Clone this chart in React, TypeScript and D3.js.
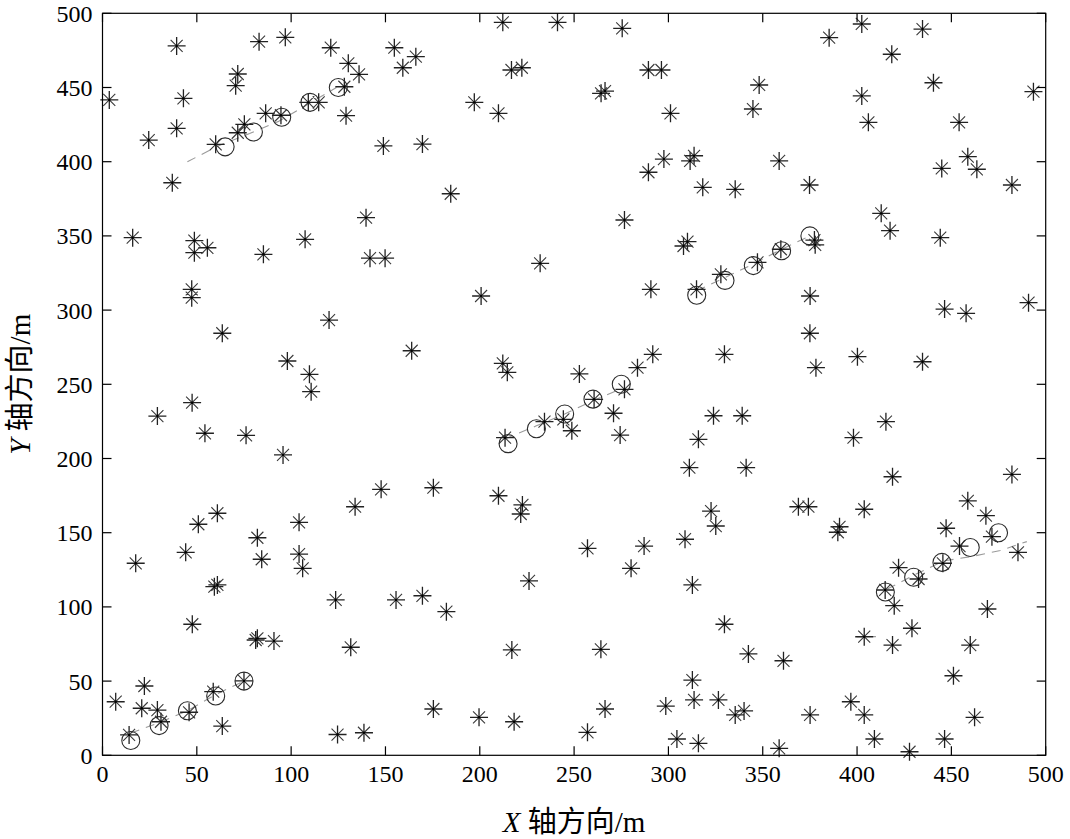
import React from "react";
import * as d3 from "d3";

const W = 1070;
const H = 839;
const M = { left: 102.5, right: 1045.7, top: 13.3, bottom: 755.3 };

const xTicks = [0, 50, 100, 150, 200, 250, 300, 350, 400, 450, 500];
const yTicks = [0, 50, 100, 150, 200, 250, 300, 350, 400, 450, 500];

// measurements (clutter + detections)
const measurements: [number, number][] = [
  [39.3, 478.0], [83.0, 480.9], [96.9, 483.8], [121.0, 476.8], [71.7, 459.1], [70.6, 451.2],
  [3.6, 441.6], [42.9, 442.7], [39.3, 422.5], [24.5, 414.6], [60.0, 411.7], [71.7, 419.5],
  [75.2, 425.2], [86.5, 432.6], [94.6, 431.3], [109.1, 440.0], [114.6, 440.0], [37.0, 385.8],
  [16.0, 348.8], [48.7, 346.8], [48.7, 338.7], [55.6, 342.0], [85.3, 337.6], [107.4, 347.7],
  [212.2, 493.9], [241.2, 493.9], [154.7, 476.8], [166.1, 470.8], [159.2, 463.3], [130.3, 466.3],
  [136.0, 458.9], [128.2, 450.5], [129.1, 431.0], [216.8, 461.8], [222.3, 463.3], [197.1, 440.0],
  [209.9, 432.6], [148.9, 410.6], [169.6, 411.9], [184.6, 378.4], [139.7, 362.3], [141.8, 335.0],
  [149.8, 335.0],
  [275.5, 489.9], [289.4, 461.8], [296.3, 461.8], [264.3, 446.1], [266.4, 447.6], [301.1, 432.6],
  [348.1, 451.7], [344.8, 435.5], [297.6, 401.8], [289.4, 392.9], [311.5, 400.5], [313.6, 404.0],
  [318.2, 382.7], [335.4, 381.4], [358.7, 400.5], [374.8, 384.3], [276.7, 360.7], [308.0, 343.2],
  [310.1, 346.1], [359.6, 341.0],
  [402.5, 492.8], [385.2, 483.6], [434.7, 489.4], [418.4, 472.4], [440.5, 453.2], [493.5, 447.2],
  [402.5, 444.3], [406.0, 426.5], [454.1, 426.5], [458.7, 403.4], [463.5, 394.9], [444.9, 395.5],
  [482.1, 384.3], [412.8, 365.2], [417.5, 353.5], [444.1, 348.8], [377.4, 347.2], [377.8, 344.0],
  [47.3, 314.0], [47.3, 308.4], [63.5, 284.4], [120.1, 293.3], [98.0, 265.7], [109.7, 256.7],
  [110.6, 245.0], [47.5, 237.6], [29.1, 228.6], [54.3, 217.0], [76.1, 215.6], [95.7, 202.4],
  [232.0, 331.5], [200.7, 309.5], [163.9, 272.6], [212.2, 264.1], [214.6, 258.1], [213.4, 214.0],
  [234.3, 224.8], [244.3, 226.4], [248.8, 218.7], [147.7, 179.2], [175.4, 180.3], [209.9, 174.9],
  [290.7, 314.0], [314.9, 314.0], [327.8, 324.1], [347.2, 332.2], [375.1, 309.5], [375.0, 284.4],
  [378.2, 261.2], [291.7, 270.2], [329.7, 270.2], [283.6, 261.2], [252.8, 257.0], [276.7, 246.6],
  [260.6, 239.9], [270.9, 230.5], [274.4, 215.8], [323.9, 228.8], [339.1, 228.8], [315.9, 212.9],
  [311.1, 193.8], [341.2, 193.8],
  [400.2, 268.6], [434.7, 265.2], [446.4, 300.7], [457.8, 297.8], [490.9, 305.0], [415.3, 224.8],
  [398.1, 214.0], [418.8, 187.7], [482.1, 189.3], [458.7, 171.5],
  [60.9, 163.1], [50.8, 155.7], [104.2, 157.0], [82.1, 146.6], [44.1, 136.8], [17.6, 129.4],
  [84.4, 132.1], [104.2, 135.6], [106.1, 126.0], [59.3, 113.6], [60.9, 114.8], [123.6, 104.7],
  [47.6, 88.3], [81.2, 77.7], [82.1, 78.8], [90.9, 77.0], [75.0, 50.1], [22.2, 46.7],
  [7.0, 36.1], [58.7, 42.9], [20.8, 31.7], [29.1, 30.5], [45.9, 29.0], [31.0, 22.6],
  [63.5, 19.7], [14.1, 13.7], [124.6, 14.0],
  [133.9, 167.5], [222.6, 168.7], [221.7, 162.6], [226.1, 117.5], [155.6, 104.7], [169.6, 107.5],
  [182.3, 96.8], [131.6, 72.8], [217.0, 71.0], [175.4, 31.2], [199.6, 25.6], [218.2, 22.6],
  [138.6, 15.2],
  [322.6, 164.6], [325.1, 154.5], [368.9, 167.5], [374.2, 167.5], [257.1, 139.5], [287.1, 141.0],
  [280.2, 126.0], [308.8, 145.6], [312.7, 114.8], [329.7, 88.3], [264.2, 71.4], [342.4, 68.3],
  [361.0, 63.7], [312.7, 50.7], [266.4, 31.2], [298.6, 33.2], [313.6, 37.3], [326.5, 37.3],
  [335.4, 27.2], [340.1, 29.9], [257.1, 15.5], [304.5, 11.0], [315.9, 8.1], [358.7, 4.7],
  [375.1, 27.2],
  [403.8, 165.8], [390.7, 154.0], [389.8, 150.3], [468.3, 161.5], [447.2, 153.0], [454.3, 141.0],
  [471.5, 147.3], [485.3, 136.8], [445.5, 129.4], [422.0, 126.4], [432.6, 118.8], [414.9, 111.4],
  [419.7, 100.8], [469.1, 98.6], [429.1, 85.6], [403.8, 79.9], [418.8, 74.3], [460.0, 74.3],
  [451.1, 53.6], [396.7, 36.1], [403.8, 27.2], [462.3, 25.6], [409.2, 11.0], [446.4, 11.0],
  [427.8, 2.4],
];

// true target positions (circles)
const trueTrack1: [number, number][] = [[15, 10], [30, 20], [45, 30], [60, 40], [75, 50]];
const trueTrack2: [number, number][] = [[65, 410], [80, 420], [95, 430], [110, 440], [125, 450]];
const trueTrack3: [number, number][] = [[215, 210], [230, 220], [245, 230], [260, 240], [275, 250]];
const trueTrack4: [number, number][] = [[315, 310], [330, 320], [345, 330], [360, 340], [375, 350]];
const trueTrack5: [number, number][] = [[415, 110], [430, 120], [445, 130], [460, 140], [475, 150]];

// estimated tracks (gray dashed)
const estTrack1: [number, number][] = [[15, 15], [30, 22], [45, 30], [60, 41], [75, 50]];
const estTrack2: [number, number][] = [[45, 400], [62, 411], [78, 419], [93, 427], [108, 438], [124, 450]];
const estTrack3: [number, number][] = [[213, 213], [230, 222], [245, 230], [260, 239], [275, 247]];
const estTrack4: [number, number][] = [[315, 313], [330, 322], [345, 331], [360, 341], [375, 350]];
const estTrack5a: [number, number][] = [[400, 80], [410, 80]];
const estTrack5b: [number, number][] = [[416, 112], [431, 122], [446, 131], [461, 134], [476, 138], [490, 144]];

const trueTracks = [trueTrack1, trueTrack2, trueTrack3, trueTrack4, trueTrack5];
const estTracks = [estTrack1, estTrack2, estTrack3, estTrack4, estTrack5a, estTrack5b];

export default function App() {
  const x = d3.scaleLinear().domain([0, 500]).range([M.left, M.right]);
  const y = d3.scaleLinear().domain([0, 500]).range([M.bottom, M.top]);
  const line = d3
    .line<[number, number]>()
    .x((d) => x(d[0]))
    .y((d) => y(d[1]));

  const plusPath = (px: number, py: number) => {
    const a = 9;
    return `M${px - a},${py}h${2 * a}M${px},${py - a}v${2 * a}`;
  };
  const crossPath = (px: number, py: number) => {
    const b = 6;
    return `M${px - b},${py - b}l${2 * b},${2 * b}M${px - b},${py + b}l${2 * b},${-2 * b}`;
  };

  const font = "'Liberation Serif', 'Times New Roman', 'Noto Sans CJK SC', serif";
  const tickLen = 9;

  return (
    <svg
      width={W}
      height={H}
      style={{ position: "absolute", left: 0, top: 0, background: "#fff" }}
      fontFamily={font}
    >
      <rect x={0} y={0} width={W} height={H} fill="#fff" />
      {/* estimated tracks */}
      {estTracks.map((t, i) => (
        <path
          key={"e" + i}
          d={line(t) || ""}
          fill="none"
          stroke="#9a9a9a"
          strokeWidth={1.1}
          strokeDasharray="9,7"
        />
      ))}
      {/* measurements */}
      <path
        d={measurements.map((d) => plusPath(x(d[0]), y(d[1]))).join("")}
        fill="none"
        stroke="#222"
        strokeWidth={1.3}
      />
      <path
        d={measurements.map((d) => crossPath(x(d[0]), y(d[1]))).join("")}
        fill="none"
        stroke="#3a3a3a"
        strokeWidth={1.1}
      />
      {measurements.map((d, i) => (
        <circle key={"c" + i} cx={x(d[0])} cy={y(d[1])} r={1.2} fill="#000" />
      ))}
      {/* true positions */}
      {trueTracks.map((t, i) =>
        t.map((d, j) => (
          <circle
            key={"t" + i + "-" + j}
            cx={x(d[0])}
            cy={y(d[1])}
            r={9}
            fill="none"
            stroke="#2a2a2a"
            strokeWidth={1.1}
          />
        ))
      )}
      {/* axes box */}
      <rect
        x={M.left}
        y={M.top}
        width={M.right - M.left}
        height={M.bottom - M.top}
        fill="none"
        stroke="#000"
        strokeWidth={1.2}
      />
      {xTicks.map((t) => (
        <g key={"xt" + t}>
          <line x1={x(t)} x2={x(t)} y1={M.bottom} y2={M.bottom - tickLen} stroke="#000" strokeWidth={1.2} />
          <line x1={x(t)} x2={x(t)} y1={M.top} y2={M.top + tickLen} stroke="#000" strokeWidth={1.2} />
          <text x={x(t)} y={M.bottom + 27} textAnchor="middle" fontSize={24} fill="#000">
            {t}
          </text>
        </g>
      ))}
      {yTicks.map((t) => (
        <g key={"yt" + t}>
          <line x1={M.left} x2={M.left + tickLen} y1={y(t)} y2={y(t)} stroke="#000" strokeWidth={1.2} />
          <line x1={M.right} x2={M.right - tickLen} y1={y(t)} y2={y(t)} stroke="#000" strokeWidth={1.2} />
          <text x={M.left - 10} y={y(t)} dy="0.35em" textAnchor="end" fontSize={24} fill="#000">
            {t}
          </text>
        </g>
      ))}
      <text x={(M.left + M.right) / 2} y={832} textAnchor="middle" fontSize={29} fill="#000">
        <tspan fontStyle="italic">X</tspan>
        <tspan> 轴方向/m</tspan>
      </text>
      <text
        transform={`translate(30, ${(M.top + M.bottom) / 2}) rotate(-90)`}
        textAnchor="middle"
        fontSize={29}
        fill="#000"
      >
        <tspan fontStyle="italic">Y</tspan>
        <tspan> 轴方向/m</tspan>
      </text>
    </svg>
  );
}
